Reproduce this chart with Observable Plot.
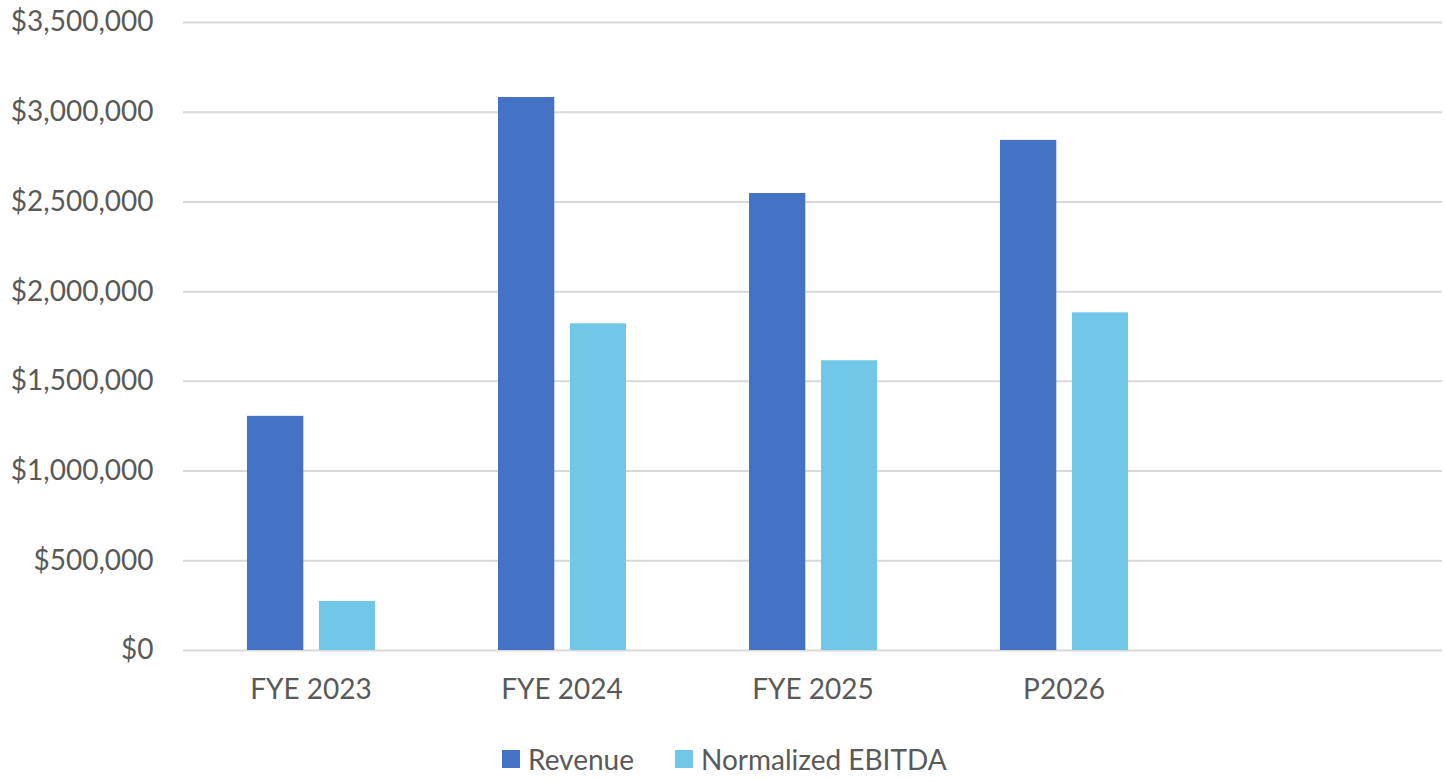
<!DOCTYPE html>
<html>
<head>
<meta charset="utf-8">
<script src="https://cdn.jsdelivr.net/npm/d3@7"></script>
<script src="https://cdn.jsdelivr.net/npm/@observablehq/plot@0.6"></script>
<style>
  html, body { margin: 0; padding: 0; background: #fff; }
  body { width: 1445px; height: 782px; overflow: hidden; font-family: Lato, "Open Sans", sans-serif; }
  #legend { display: flex; justify-content: flex-start; align-items: center; height: 47px; padding-left: 502px; font-size: 28px; color: #595959; }
  .item { display: flex; align-items: center; margin-right: 41px; }
  .sw { width: 18px; height: 18px; margin-right: 8px; }
</style>
</head>
<body>
<div id="chart"></div>
<div id="legend"></div>
<script>
const categories = ["FYE 2023", "FYE 2024", "FYE 2025", "P2026", " "];
const revenue = [1305000, 3082000, 2547000, 2843000];
const ebitda = [273000, 1821000, 1615000, 1882000];
const seriesNames = ["Revenue", "Normalized EBITDA"];
const seriesColors = ["#4472C4", "#70C7E8"];
const yTicks = [0, 500000, 1000000, 1500000, 2000000, 2500000, 3000000, 3500000];

const revData = revenue.map((v, i) => ({cat: categories[i], value: v}));
const ebData = ebitda.map((v, i) => ({cat: categories[i], value: v}));

const fmt = d3.format("$,.0f");

const chart = Plot.plot({
  width: 1445,
  height: 735,
  marginTop: 22,
  marginBottom: 85,
  marginLeft: 183,
  marginRight: 3,
  style: {fontFamily: "Lato, 'Open Sans', sans-serif", fontSize: "28px", color: "#595959", background: "#fff"},
  x: {domain: categories, padding: 0, label: null},
  y: {domain: [0, 3500000], label: null},
  marks: [
    Plot.gridY(yTicks, {stroke: "#d9d9d9", strokeOpacity: 1, strokeWidth: 2}),
    Plot.barY(revData, {x: "cat", y: "value", fill: seriesColors[0], insetLeft: 62, insetRight: 132.7}),
    Plot.barY(ebData, {x: "cat", y: "value", fill: seriesColors[1], insetLeft: 134, insetRight: 61}),
    Plot.axisY(yTicks, {tickSize: 0, tickPadding: 30, tickFormat: fmt, fill: "#595959", fontSize: 28, label: null}),
    Plot.axisX({tickSize: 0, tickPadding: 29, fill: "#595959", fontSize: 28, label: null})
  ]
});
document.getElementById("chart").appendChild(chart);

const legend = document.getElementById("legend");
seriesNames.forEach((n, i) => {
  const it = document.createElement("div");
  it.className = "item";
  it.innerHTML = `<span class="sw" style="background:${seriesColors[i]}"></span><span>${n}</span>`;
  legend.appendChild(it);
});
</script>
</body>
</html>
